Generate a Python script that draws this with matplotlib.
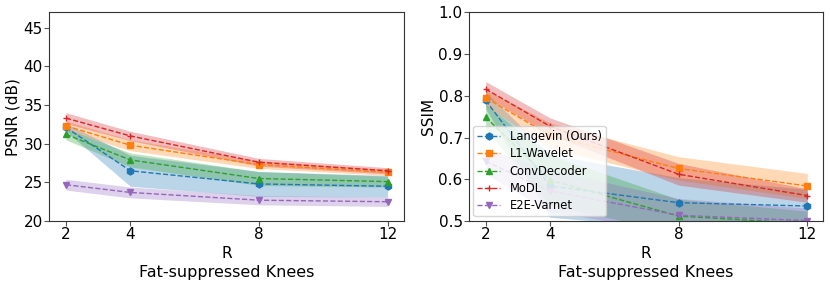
import matplotlib
matplotlib.use("Agg")
import matplotlib.pyplot as plt
import numpy as np

R = [2, 4, 8, 12]
methods = ["Langevin (Ours)", "L1-Wavelet", "ConvDecoder", "MoDL", "E2E-Varnet"]
markers = ["h", "s", "^", "+", "v"]
colors = ["#1f77b4", "#ff7f0e", "#2ca02c", "#d62728", "#9467bd"]

psnr_mean = {
    "Langevin (Ours)": [32.1, 26.5, 24.8, 24.5],
    "L1-Wavelet": [32.3, 29.8, 27.3, 26.3],
    "ConvDecoder": [31.2, 27.9, 25.5, 25.1],
    "MoDL": [33.3, 31.0, 27.6, 26.5],
    "E2E-Varnet": [24.7, 23.7, 22.7, 22.5],
}
psnr_std = {
    "Langevin (Ours)": [0.5, 2.0, 1.6, 1.4],
    "L1-Wavelet": [0.6, 0.7, 0.5, 0.4],
    "ConvDecoder": [0.7, 0.9, 0.9, 0.7],
    "MoDL": [0.7, 0.6, 0.5, 0.4],
    "E2E-Varnet": [0.7, 0.7, 0.6, 0.6],
}
ssim_mean = {
    "Langevin (Ours)": [0.789, 0.584, 0.544, 0.536],
    "L1-Wavelet": [0.795, 0.705, 0.626, 0.584],
    "ConvDecoder": [0.749, 0.598, 0.512, 0.494],
    "MoDL": [0.816, 0.727, 0.612, 0.561],
    "E2E-Varnet": [0.643, 0.572, 0.514, 0.501],
}
ssim_std = {
    "Langevin (Ours)": [0.02, 0.075, 0.06, 0.04],
    "L1-Wavelet": [0.02, 0.03, 0.028, 0.03],
    "ConvDecoder": [0.03, 0.06, 0.04, 0.03],
    "MoDL": [0.018, 0.02, 0.026, 0.016],
    "E2E-Varnet": [0.03, 0.05, 0.04, 0.03],
}

fig, axes = plt.subplots(1, 2, figsize=(8.3, 2.89), dpi=100)
fig.subplots_adjust(left=0.059, right=0.992, top=0.958, bottom=0.235, wspace=0.183)

for ax, mean, std, ylab, ylim, yt in [
    (axes[0], psnr_mean, psnr_std, "PSNR (dB)", (20, 47), [20, 25, 30, 35, 40, 45]),
    (axes[1], ssim_mean, ssim_std, "SSIM", (0.5, 1.0), [0.5, 0.6, 0.7, 0.8, 0.9, 1.0]),
]:
    for m, mk, c in zip(methods, markers, colors):
        mu = np.array(mean[m]); sd = np.array(std[m])
        ax.plot(R, mu, linestyle="--", marker=mk, color=c, markersize=5, linewidth=1, label=m)
        ax.fill_between(R, mu - sd, mu + sd, color=c, alpha=0.3, linewidth=0)
    ax.set_xlim(1.47, 12.5)
    ax.set_ylim(*ylim)
    ax.set_xticks(R)
    ax.set_yticks(yt)
    ax.tick_params(labelsize=11, length=3.5, color="#555555", pad=0.8)
    for s in ax.spines.values():
        s.set_color("#333333")
    ax.set_ylabel(ylab, fontsize=11, labelpad=2)
    ax.set_xlabel("R", fontsize=11, labelpad=2.5)
    ax.text(0.5, -0.212, "Fat-suppressed Knees", transform=ax.transAxes, ha="center", va="top", fontsize=11.5)

axes[1].legend(loc="lower left", fontsize=8.3, framealpha=0.8, borderaxespad=0.4,
               labelspacing=0.38, borderpad=0.35)
fig.savefig("out.png", dpi=100)
